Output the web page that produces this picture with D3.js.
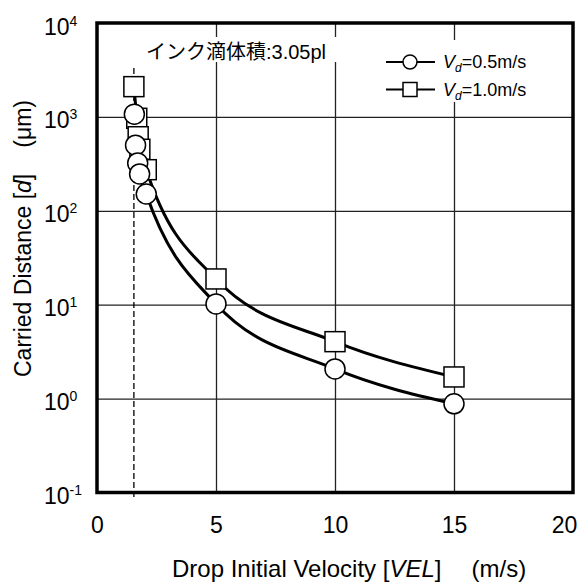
<!DOCTYPE html>
<html>
<head>
<meta charset="utf-8">
<script src="https://cdn.jsdelivr.net/npm/d3@7"></script>
<style>
body { margin: 0; background: #fff; }
svg { display: block; font-family: "Liberation Sans", Arial, sans-serif; }
</style>
</head>
<body>
<script>
// Vd = 0.5 m/s (circles)
const velocitySlow = [1.57, 1.62, 1.71, 1.79, 2.07, 5, 10, 15]
const distanceSlow = [1070, 500, 323, 247, 151, 10.2, 2.07, 0.88]
// Vd = 1.0 m/s (squares)
const velocityFast = [1.55, 1.67, 1.73, 1.80, 2.07, 5, 10, 15]
const distanceFast = [2100, 966, 615, 452, 274, 18.8, 4.04, 1.70]

const xTicks = [0, 5, 10, 15, 20]
const yExponents = [-1, 0, 1, 2, 3, 4]
const limitVelocity = 1.55
const legendLabels = ['=0.5m/s', '=1.0m/s']
const noteJa = 'インク滴体積'
const noteValue = ':3.05pl'

const w = 579
const h = 584
const plotLeft = 97, plotRight = 573, plotTop = 23, plotBottom = 492.5

const svg = d3.select('body')
    .append('svg')
    .attr('width', w)
    .attr('height', h)

const xScale = d3.scaleLinear().domain([0, 20]).range([plotLeft, plotRight])
const yScale = d3.scaleLog().domain([0.1, 10000]).range([plotBottom, plotTop])

// grid
svg.append('g')
    .attr('transform', `translate(0,${plotBottom})`)
    .call(d3.axisBottom(xScale).tickValues(xTicks.slice(1, -1)).tickSize(-(plotBottom - plotTop)).tickFormat(''))
    .call(g => g.select('.domain').remove())
    .selectAll('line').attr('stroke', '#222').attr('stroke-width', 1.3)

svg.append('g')
    .attr('transform', `translate(${plotLeft},0)`)
    .call(d3.axisLeft(yScale).tickValues(yExponents.slice(1, -1).map(e => 10 ** e)).tickSize(-(plotRight - plotLeft)).tickFormat(''))
    .call(g => g.select('.domain').remove())
    .selectAll('line').attr('stroke', '#222').attr('stroke-width', 1.3)

// white boxes behind the note and the legend
svg.append('rect').attr('x', 142).attr('y', 37).attr('width', 200).attr('height', 25).attr('fill', '#fff')
svg.append('rect').attr('x', 380).attr('y', 40).attr('width', 166).attr('height', 62).attr('fill', '#fff')

// dashed limit line
svg.append('line')
    .attr('x1', xScale(limitVelocity)).attr('x2', xScale(limitVelocity))
    .attr('y1', 68).attr('y2', 500)
    .attr('stroke', '#000').attr('stroke-width', 1.3).attr('stroke-dasharray', '6,3')

// curves
const line = d3.line()
    .x(d => xScale(d[0]))
    .y(d => yScale(d[1]))
    .curve(d3.curveMonotoneX)

const slow = velocitySlow.map((v, i) => [v, distanceSlow[i]])
const fast = velocityFast.map((v, i) => [v, distanceFast[i]])

svg.append('path').datum(slow).attr('d', line)
    .attr('fill', 'none').attr('stroke', '#000').attr('stroke-width', 3)
svg.append('path').datum(fast).attr('d', line)
    .attr('fill', 'none').attr('stroke', '#000').attr('stroke-width', 3)

// markers
svg.selectAll('rect.sq')
    .data(fast)
    .enter()
    .append('rect')
    .attr('class', 'sq')
    .attr('x', d => xScale(d[0]) - 10)
    .attr('y', d => yScale(d[1]) - 10)
    .attr('width', 20).attr('height', 20)
    .attr('fill', '#fff').attr('stroke', '#000').attr('stroke-width', 1.5)

svg.selectAll('circle.ci')
    .data(slow)
    .enter()
    .append('circle')
    .attr('class', 'ci')
    .attr('cx', d => xScale(d[0]))
    .attr('cy', d => yScale(d[1]))
    .attr('r', 10)
    .attr('fill', '#fff').attr('stroke', '#000').attr('stroke-width', 1.5)

// frame
svg.append('rect')
    .attr('x', plotLeft).attr('y', plotTop)
    .attr('width', plotRight - plotLeft).attr('height', plotBottom - plotTop)
    .attr('fill', 'none').attr('stroke', '#000').attr('stroke-width', 3.5)

// x tick labels
const xAxis = svg.append('g')
    .attr('transform', 'translate(0,533)')
    .call(d3.axisBottom(xScale).tickValues(xTicks).tickSize(0).tickPadding(0))
xAxis.select('.domain').remove()
xAxis.attr('font-size', 23).attr('font-family', null)
xAxis.selectAll('text').attr('dy', 0).attr('y', 0).attr('fill', '#000')
    .attr('dx', d => d === 20 ? -9 : 0)

// y tick labels
const yAxis = svg.append('g')
    .call(d3.axisLeft(yScale).tickValues(yExponents.map(e => 10 ** e)).tickSize(0).tickFormat(''))
yAxis.select('.domain').remove()
yAxis.attr('font-family', null)
yAxis.selectAll('.tick').each(function (d) {
    const t = d3.select(this).append('text')
        .attr('x', 44).attr('y', 11)
        .attr('text-anchor', 'start').attr('fill', '#000')
    t.append('tspan').attr('font-size', 23).text('10')
    t.append('tspan').attr('font-size', 14).attr('dy', -9).text(Math.round(Math.log10(d)))
})

// note
const noteText = svg.append('text').attr('x', 146).attr('y', 59).attr('font-size', 20)
noteText.append('tspan').attr('font-family', '"Noto Sans CJK JP", sans-serif').text(noteJa)
noteText.append('tspan').text(noteValue)

// legend
legendLabels.forEach((label, i) => {
    const cy = 62 + i * 27.5
    svg.append('line').attr('x1', 386).attr('x2', 435).attr('y1', cy).attr('y2', cy)
        .attr('stroke', '#000').attr('stroke-width', 2)
    if (i === 0) {
        svg.append('circle').attr('cx', 410).attr('cy', cy).attr('r', 7)
            .attr('fill', '#fff').attr('stroke', '#000').attr('stroke-width', 1.5)
    } else {
        svg.append('rect').attr('x', 403).attr('y', cy - 7).attr('width', 14).attr('height', 14)
            .attr('fill', '#fff').attr('stroke', '#000').attr('stroke-width', 1.5)
    }
    const t = svg.append('text').attr('x', 443).attr('y', cy + 6).attr('font-size', 18)
    t.append('tspan').attr('font-style', 'italic').text('V')
    t.append('tspan').attr('font-style', 'italic').attr('font-size', 12).attr('dy', 4).text('d')
    t.append('tspan').attr('dy', -4).text(label)
})

// axis titles
const xTitle = svg.append('text').attr('x', 172).attr('y', 577).attr('font-size', 24)
xTitle.append('tspan').text('Drop Initial Velocity [')
xTitle.append('tspan').attr('font-style', 'italic').text('VEL')
xTitle.append('tspan').text(']')
xTitle.append('tspan').attr('dx', 30).text('(m/s)')

const yTitle = svg.append('text').attr('transform', 'translate(31,377) rotate(-90)').attr('font-size', 23)
yTitle.append('tspan').text('Carried Distance [')
yTitle.append('tspan').attr('font-style', 'italic').text('d')
yTitle.append('tspan').text(']')
yTitle.append('tspan').attr('dx', 26).text('(μm)')
</script>
</body>
</html>
